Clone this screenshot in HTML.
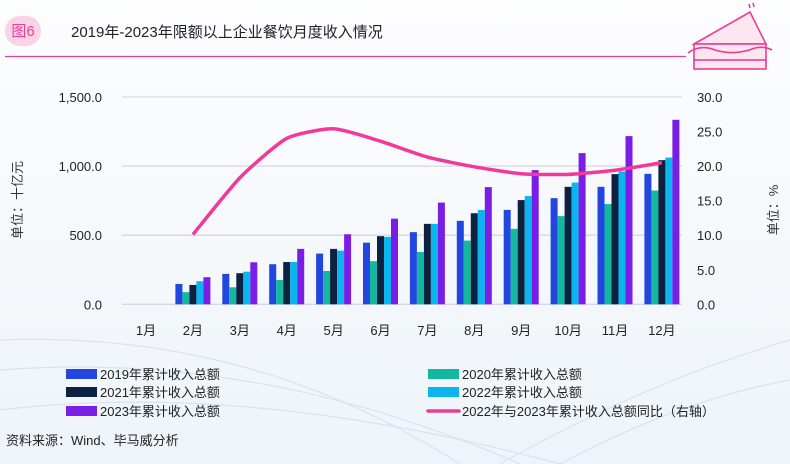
<!DOCTYPE html>
<html><head><meta charset="utf-8"><style>
body{margin:0;width:790px;height:464px;overflow:hidden;background:#f6f9fc;font-family:"Liberation Sans","Noto Sans CJK SC",sans-serif}
svg{display:block}
</style></head><body>
<svg id="c" width="790" height="464" font-family="Liberation Sans, Noto Sans CJK SC, sans-serif">
<defs><linearGradient id="bg" x1="0" y1="0" x2="0" y2="1"><stop offset="0" stop-color="#fdfdfe"/><stop offset="1" stop-color="#eef4f9"/></linearGradient></defs>
<rect width="790" height="464" fill="url(#bg)"/>
<g stroke="#d6e4ef" fill="none" stroke-width="1.2">
<path d="M0 340 Q250 330 460 464"/><path d="M0 370 Q260 350 520 464"/><path d="M0 410 Q250 380 560 464"/><path d="M500 464 Q650 380 790 340"/><path d="M560 464 Q680 400 790 380"/>
</g>
<rect x="5" y="16" width="36" height="30" rx="15" fill="#fbd3e6"/>
<text x="23" y="36" font-size="15" fill="#ea3f93" text-anchor="middle">图6</text>
<text x="71" y="37" font-size="15" fill="#222">2019年-2023年限额以上企业餐饮月度收入情况</text>
<line x1="5" y1="56.5" x2="686" y2="56.5" stroke="#ea3f93" stroke-width="1.2"/>
<g stroke="#ea3f93" stroke-width="1.6" fill="none">
<path d="M694 44 L750 12 L766 44 Z" fill="#fde6f0"/>
<rect x="694" y="44" width="72" height="19" fill="#fde6f0"/>
<path d="M688 53 Q700 44 715 50 Q735 56 755 48 Q765 46 772 50"/>
<rect x="694" y="60" width="72" height="9" fill="#fde6f0"/>
<path d="M749 4 l1 4 M753 3 l1 4"/>
</g>
<g id="plot"></g>
<text transform="translate(22,200) rotate(-90)" font-size="13" fill="#333" text-anchor="middle">单位：十亿元</text>
<text transform="translate(778,210) rotate(-90)" font-size="13" fill="#333" text-anchor="middle">单位：%</text>
<g id="legend" font-size="13" fill="#222"></g>
<text x="6" y="445" font-size="13" fill="#222">资料来源：Wind、毕马威分析</text>
</svg>
<script>
const months=["1月","2月","3月","4月","5月","6月","7月","8月","9月","10月","11月","12月"];
const s2019=[null,147,220,290,367,446,522,604,683,768,850,944];
const s2020=[null,88,123,176,241,312,379,461,546,638,725,823];
const s2021=[null,140,225,306,401,493,582,659,754,850,942,1043];
const s2022=[null,167,236,306,388,488,582,683,783,881,961,1062];
const s2023=[null,196,304,401,507,620,736,848,971,1094,1217,1335];
const yoy=[null,10.1,18.3,24.0,25.4,23.6,21.3,19.9,18.9,18.8,19.4,20.5];
const leftTicks=[0,500,1000,1500];
const rightTicks=[0,5,10,15,20,25,30];
const seriesNames=["2019年累计收入总额","2020年累计收入总额","2021年累计收入总额","2022年累计收入总额","2023年累计收入总额"];
const colors=["#2247e0","#14b8a0","#0d2240","#0bb5f0","#7a1ee6"];
const NS="http://www.w3.org/2000/svg";
const X0=122,X1=682,Y0=304.3,YT=97;
const xC=i=>146+i*46.9;
const yL=v=>Y0-v/1500*(Y0-YT);
const yR=v=>Y0-v/30*(Y0-YT);
const plot=document.getElementById('plot');
function mk(t,a,p){const e=document.createElementNS(NS,t);for(const k in a)e.setAttribute(k,a[k]);(p||plot).appendChild(e);return e;}
leftTicks.forEach(t=>{
 const l=mk('line',{x1:X0,x2:X1,y1:yL(t),y2:yL(t),stroke:'#d5d9de','stroke-width':1.3});
 
 
 const tx=mk('text',{x:102,y:yL(t)+5,'font-size':13,fill:'#222','text-anchor':'end'});
 tx.textContent=t.toLocaleString('en-US',{minimumFractionDigits:1});
 
 
});
rightTicks.forEach(t=>{
 const tx=mk('text',{x:697,y:yR(t)+5,'font-size':13,fill:'#222'});
 tx.textContent=t.toFixed(1);
 
 
});
months.forEach((m,i)=>{
 const tx=mk('text',{x:xC(i),y:335,'font-size':13,fill:'#222','text-anchor':'middle'});
 tx.textContent=m;
 
 
});
const all=[s2019,s2020,s2021,s2022,s2023];
const bw=7;
all.forEach((s,k)=>{s.forEach((v,i)=>{
 if(v==null)return;
 const x=xC(i)-2.5*bw+k*bw;
 const r=mk('rect',{x:x,y:yL(v),width:bw,height:Y0-yL(v),fill:colors[k]});
 
 
});});
const pts=[];yoy.forEach((v,i)=>{if(v!=null)pts.push([xC(i),yR(v)]);});
let d='M'+pts[0][0]+' '+pts[0][1];
for(let i=0;i<pts.length-1;i++){
 const p0=pts[Math.max(0,i-1)],p1=pts[i],p2=pts[i+1],p3=pts[Math.min(pts.length-1,i+2)];
 const t=0.1;
 d+=` C${p1[0]+(p2[0]-p0[0])*t} ${p1[1]+(p2[1]-p0[1])*t} ${p2[0]-(p3[0]-p1[0])*t} ${p2[1]-(p3[1]-p1[1])*t} ${p2[0]} ${p2[1]}`;
}
const ln=mk('path',{d:d,fill:'none',stroke:'#f0399a','stroke-width':3.5,'stroke-linejoin':'round'});


const lg=document.getElementById('legend');
const pos=[[66,374],[428,374],[66,392],[428,392],[66,411]];
seriesNames.forEach((n,k)=>{
 const r=mk('rect',{x:pos[k][0],y:pos[k][1]-5,width:31,height:10,fill:colors[k]},lg);
 
 
 const t=mk('text',{x:pos[k][0]+34,y:pos[k][1]+5},lg);
 t.textContent=n;
 
 
});
const ll=mk('line',{x1:428,x2:459,y1:411,y2:411,stroke:'#f0399a','stroke-width':3.5,'stroke-linecap':'round'},lg);


const lt=mk('text',{x:462,y:416},lg);
lt.textContent='2022年与2023年累计收入总额同比（右轴）';


</script>
</body></html>
